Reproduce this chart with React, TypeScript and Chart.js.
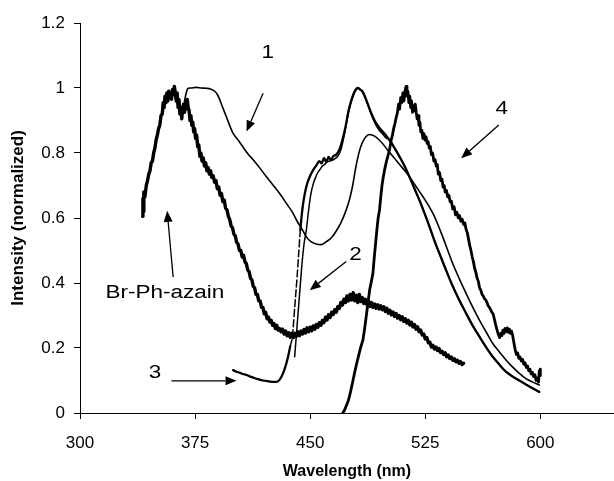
import React, { useEffect, useRef } from 'react';
import { Chart, registerables } from 'chart.js';

Chart.register(...registerables);

type Pt = [number, number];

const xTicks = [300, 375, 450, 525, 600];
const yTicks = [0, 0.2, 0.4, 0.6, 0.8, 1, 1.2];

const brPhAzain: Pt[] = [
  [340.8, 0.605], [341.0, 0.66], [341.3, 0.62], [341.6, 0.68], [342.3, 0.665], [343.2, 0.70], [344.0, 0.715], [344.8, 0.735],
  [345.6, 0.745], [346.4, 0.77], [347.2, 0.775], [348.0, 0.80], [348.8, 0.815], [349.6, 0.84], [350.4, 0.855], [351.2, 0.875],
  [352.0, 0.885], [352.8, 0.915], [353.6, 0.92], [354.2, 0.955], [354.8, 0.94], [355.4, 0.975], [356.0, 0.955], [356.6, 0.985],
  [357.2, 0.96], [357.8, 0.99], [358.4, 0.97], [359.0, 0.985], [359.6, 0.965], [360.2, 0.995], [360.8, 0.98], [361.5, 1.005],
  [362.1, 0.985], [362.7, 0.96], [363.3, 0.985], [363.9, 0.94], [364.5, 0.965], [365.1, 0.92], [365.7, 0.94], [366.3, 0.905],
  [366.9, 0.935], [367.5, 0.95], [368.1, 0.925], [368.7, 0.96], [369.3, 0.935], [369.9, 0.965], [370.5, 0.94], [371.1, 0.93],
  [371.7, 0.9], [372.3, 0.915], [372.9, 0.885], [373.5, 0.895], [374.1, 0.865], [374.7, 0.875], [375.3, 0.845], [376.0, 0.855],
  [376.7, 0.82], [377.4, 0.825], [378.1, 0.79], [378.8, 0.80], [379.5, 0.775], [380.3, 0.785], [381.1, 0.76], [381.9, 0.77],
  [382.7, 0.745], [383.5, 0.755], [384.3, 0.735], [385.1, 0.745], [385.9, 0.725], [386.8, 0.73], [387.7, 0.71], [388.6, 0.715],
  [389.5, 0.69], [390.4, 0.695], [391.3, 0.67], [392.2, 0.675], [393.1, 0.65], [394.0, 0.655], [394.9, 0.63], [395.8, 0.625],
  [396.7, 0.605], [397.6, 0.595], [398.5, 0.575], [399.4, 0.57], [400.3, 0.55], [401.2, 0.545], [402.1, 0.525], [403.0, 0.52],
  [403.9, 0.5], [404.8, 0.5], [405.7, 0.48], [406.6, 0.485], [407.5, 0.465], [408.4, 0.46], [409.3, 0.44], [410.2, 0.435],
  [411.1, 0.415], [412.0, 0.41], [412.9, 0.39], [413.8, 0.385], [414.7, 0.365], [415.6, 0.365], [416.5, 0.345], [417.4, 0.345],
  [418.3, 0.325], [419.2, 0.325], [420.1, 0.305], [421.0, 0.31], [421.9, 0.29], [422.8, 0.295], [423.7, 0.28], [424.6, 0.285],
  [425.5, 0.27], [426.4, 0.275], [427.3, 0.26], [428.2, 0.27], [429.1, 0.255], [430.0, 0.26], [431.0, 0.25], [432.0, 0.258],
  [433.0, 0.243], [434.0, 0.252], [435.0, 0.238], [436.0, 0.247], [437.0, 0.233], [438.0, 0.245], [439.0, 0.232], [440.0, 0.245],
  [441.0, 0.236], [442.0, 0.25], [443.0, 0.238], [444.0, 0.252], [445.0, 0.243], [446.0, 0.257], [447.0, 0.246], [448.0, 0.262],
  [449.0, 0.25], [450.0, 0.264], [451.0, 0.253], [452.0, 0.268], [453.0, 0.258], [454.0, 0.272], [455.0, 0.264], [456.0, 0.278],
  [457.0, 0.27], [458.0, 0.285], [459.0, 0.278], [460.0, 0.295], [461.0, 0.286], [462.0, 0.302], [463.0, 0.294], [464.0, 0.31],
  [465.0, 0.303], [466.0, 0.318], [467.0, 0.31], [468.0, 0.327], [469.0, 0.322], [470.0, 0.34], [471.0, 0.332], [472.0, 0.35],
  [473.0, 0.34], [474.0, 0.36], [475.0, 0.345], [476.0, 0.365], [477.0, 0.348], [478.0, 0.37], [479.0, 0.345], [480.0, 0.362],
  [481.0, 0.34], [482.0, 0.365], [483.0, 0.343], [484.0, 0.355], [485.0, 0.337], [486.0, 0.35], [487.0, 0.333], [488.0, 0.345],
  [489.0, 0.328], [490.0, 0.34], [491.0, 0.325], [492.0, 0.335], [493.0, 0.322], [494.0, 0.333], [495.0, 0.32], [496.0, 0.33],
  [497.0, 0.318], [498.0, 0.327], [499.0, 0.312], [500.0, 0.322], [501.0, 0.307], [502.0, 0.316], [503.0, 0.302], [504.0, 0.311],
  [505.0, 0.297], [506.0, 0.306], [507.0, 0.292], [508.0, 0.3], [509.0, 0.287], [510.0, 0.296], [511.0, 0.282], [512.0, 0.29],
  [513.0, 0.277], [514.0, 0.285], [515.0, 0.271], [516.0, 0.279], [517.0, 0.265], [518.0, 0.272], [519.0, 0.258], [520.0, 0.265],
  [521.0, 0.25], [522.0, 0.255], [523.0, 0.24], [524.0, 0.243], [525.0, 0.228], [526.0, 0.232], [527.0, 0.216], [528.0, 0.218],
  [529.0, 0.203], [530.0, 0.208], [531.0, 0.197], [532.0, 0.203], [533.0, 0.192], [534.0, 0.198], [535.0, 0.186], [536.0, 0.19],
  [537.0, 0.18], [538.0, 0.185], [539.0, 0.173], [540.0, 0.178], [541.0, 0.168], [542.0, 0.172], [543.0, 0.162], [544.0, 0.167],
  [545.0, 0.158], [546.0, 0.162], [547.0, 0.153], [548.0, 0.158], [549.0, 0.149], [550.0, 0.153],
];

const curve1: Pt[] = [
  [368.3, 0.965], [369.5, 0.99], [370.5, 0.999], [372, 1.0], [375.9, 1.002], [379, 1.0], [382.4, 0.999], [385, 0.997],
  [387.8, 0.99], [389.5, 0.98], [391, 0.965], [393, 0.94], [395.5, 0.91], [397.5, 0.885], [399.6, 0.862], [403, 0.84],
  [406, 0.82], [409, 0.8], [412.7, 0.78], [417, 0.755], [421.5, 0.727], [426, 0.7], [430, 0.676], [434.5, 0.645],
  [438.8, 0.615], [441.5, 0.59], [444.3, 0.569], [447.5, 0.542], [450.5, 0.527], [454, 0.52], [457, 0.518], [460.5, 0.527],
  [464, 0.54], [467, 0.56], [470, 0.585], [473.5, 0.625], [475.8, 0.66], [477.7, 0.7], [479.5, 0.75], [481, 0.785],
  [483, 0.82], [485.5, 0.845], [488.7, 0.857], [492, 0.852], [495, 0.84], [497.4, 0.828], [501, 0.806], [506, 0.778],
  [510, 0.755], [514.7, 0.727], [519, 0.697], [523.4, 0.666], [526.7, 0.642], [530, 0.614], [533.2, 0.58], [536.4, 0.542],
  [539.7, 0.5], [542.9, 0.46], [547.3, 0.412], [551.6, 0.368], [556, 0.325], [560.3, 0.286], [564.6, 0.25], [569, 0.214],
  [573.3, 0.188], [577.6, 0.163], [582, 0.141], [586.3, 0.122], [590.6, 0.106], [595, 0.095], [599.3, 0.086],
];

const curve2: Pt[] = [
  [439.9, 0.173], [441.5, 0.27], [443, 0.36], [444.5, 0.45], [446, 0.52], [447.5, 0.563], [449, 0.625], [450.5, 0.675],
  [452, 0.705], [453.5, 0.725], [455, 0.74], [456.5, 0.75], [458, 0.76], [459.5, 0.765], [461, 0.772], [462.5, 0.775],
  [464, 0.777], [466, 0.782], [468, 0.79], [470, 0.81], [472, 0.85], [474, 0.9], [476, 0.945], [478, 0.975],
  [480, 0.995], [481.5, 1.0], [483, 0.995], [485, 0.98], [487, 0.955], [489, 0.93], [491, 0.905], [493, 0.885],
  [495, 0.87], [497, 0.86], [499, 0.848], [501.7, 0.84], [505, 0.815], [508.2, 0.789], [511.5, 0.76], [514.7, 0.727],
  [518, 0.69], [521.2, 0.655], [524.5, 0.615], [527.8, 0.573], [531, 0.53], [534.3, 0.49], [538.5, 0.44], [543, 0.389],
  [547.3, 0.346], [551.6, 0.307], [556, 0.268], [560.3, 0.235], [564.6, 0.203], [569, 0.173], [573.3, 0.149], [577.6, 0.127],
  [582, 0.112], [586.3, 0.1], [590.6, 0.088], [595, 0.076], [599.3, 0.065],
];

const curve3: Pt[] = [
  [399.8, 0.132], [402, 0.127], [404, 0.124], [406, 0.12], [408.5, 0.117], [411, 0.112], [414, 0.107], [417, 0.103],
  [419.3, 0.1], [422, 0.098], [425, 0.096], [428, 0.096], [430, 0.102], [432.3, 0.122], [434, 0.145], [435.6, 0.173],
  [437, 0.205], [438.4, 0.235], [440, 0.33], [441.5, 0.42], [442.5, 0.49], [443.6, 0.563], [445, 0.63], [446.5, 0.675],
  [448, 0.705], [450, 0.73], [452, 0.748], [454, 0.762], [456, 0.775], [457.5, 0.768], [459, 0.785], [460.5, 0.772],
  [462, 0.788], [463.5, 0.778], [465, 0.79], [467, 0.795], [469, 0.81], [471, 0.84], [473, 0.88], [475, 0.93],
  [477, 0.965], [479, 0.99], [481, 1.0], [482.5, 0.995], [484, 0.99], [486, 0.97], [488, 0.945], [490, 0.92],
  [492, 0.9], [494, 0.885], [496, 0.872], [498, 0.862], [500, 0.85], [501.7, 0.84], [505, 0.815], [508.2, 0.789],
  [511.5, 0.76], [514.7, 0.727], [518, 0.69], [521.2, 0.655], [524.5, 0.615], [527.8, 0.573], [531, 0.53], [534.3, 0.49],
  [538.5, 0.44], [543, 0.389], [547.3, 0.346], [551.6, 0.307], [556, 0.268], [560.3, 0.235], [564.6, 0.203], [569, 0.173],
  [573.3, 0.149], [577.6, 0.127], [582, 0.112], [586.3, 0.1], [590.6, 0.088], [595, 0.076], [599.3, 0.065],
];

const curve4: Pt[] = [
  [471.3, 0.0], [472.5, 0.01], [473.8, 0.025], [475.0, 0.04], [476.3, 0.065], [477.9, 0.1], [479.0, 0.125], [480.2, 0.15],
  [481.5, 0.175], [482.8, 0.2], [484.4, 0.225], [485.5, 0.26], [486.6, 0.3], [487.7, 0.34], [488.8, 0.38], [489.9, 0.405],
  [490.9, 0.43], [491.8, 0.48], [492.6, 0.52], [493.4, 0.56], [494.3, 0.6], [495.2, 0.625], [496.0, 0.665], [496.8, 0.7],
  [497.6, 0.725], [498.5, 0.748], [499.5, 0.77], [500.6, 0.79], [501.7, 0.81], [502.8, 0.84], [503.6, 0.855], [504.4, 0.875],
  [505.2, 0.89], [506.1, 0.91], [506.9, 0.925], [507.6, 0.95], [508.3, 0.935], [509.0, 0.97], [509.7, 0.955], [510.4, 0.985],
  [511.1, 0.96], [511.8, 0.99], [512.5, 1.005], [513.1, 0.975], [513.7, 0.99], [514.3, 0.955], [514.9, 0.975], [515.5, 0.94],
  [516.1, 0.96], [516.7, 0.925], [517.3, 0.945], [517.9, 0.93], [518.5, 0.95], [519.1, 0.925], [519.7, 0.905], [520.3, 0.915],
  [520.9, 0.885], [521.5, 0.895], [522.1, 0.865], [522.8, 0.87], [523.4, 0.845], [524.1, 0.86], [524.8, 0.84], [525.5, 0.85],
  [526.2, 0.83], [526.9, 0.835], [527.6, 0.815], [528.3, 0.82], [529.0, 0.795], [529.8, 0.8], [530.6, 0.775], [531.4, 0.78],
  [532.1, 0.76], [532.8, 0.765], [533.5, 0.735], [534.3, 0.74], [535.1, 0.715], [535.9, 0.72], [536.6, 0.695], [537.3, 0.7],
  [538.0, 0.68], [538.8, 0.685], [539.6, 0.665], [540.4, 0.67], [541.2, 0.65], [542.0, 0.652], [542.9, 0.628], [543.8, 0.635],
  [544.7, 0.61], [545.6, 0.618], [546.5, 0.6], [547.3, 0.608], [548.2, 0.59], [549.1, 0.596], [550.0, 0.58], [550.8, 0.585],
  [551.6, 0.565], [552.4, 0.555], [553.2, 0.535], [554.0, 0.515], [554.8, 0.5], [555.6, 0.48], [556.4, 0.465], [557.2, 0.445],
  [558.0, 0.432], [558.8, 0.415], [559.6, 0.405], [560.4, 0.385], [561.2, 0.378], [562.0, 0.365], [562.8, 0.36], [563.6, 0.352],
  [564.4, 0.348], [565.2, 0.34], [566.0, 0.33], [566.8, 0.325], [567.6, 0.318], [568.4, 0.31], [569.2, 0.305], [570.0, 0.29],
  [570.7, 0.275], [571.4, 0.262], [572.1, 0.25], [572.8, 0.24], [573.5, 0.232], [574.2, 0.245], [574.9, 0.238], [575.6, 0.255],
  [576.3, 0.245], [577.0, 0.26], [577.7, 0.25], [578.4, 0.262], [579.1, 0.248], [579.8, 0.258], [580.5, 0.245], [581.2, 0.252],
  [582.0, 0.238], [582.8, 0.215], [583.6, 0.195], [584.4, 0.18], [585.2, 0.185], [586.0, 0.168], [586.8, 0.172], [587.6, 0.16],
  [588.4, 0.165], [589.2, 0.15], [590.0, 0.155], [590.8, 0.14], [591.6, 0.145], [592.4, 0.13], [593.2, 0.135], [594.0, 0.12],
  [594.8, 0.125], [595.6, 0.112], [596.4, 0.118], [597.2, 0.1], [598.0, 0.108], [598.8, 0.095], [599.3, 0.13], [599.8, 0.115],
  [600.0, 0.135],
];

// curve labels (data coordinates)
const labelTexts = ['1', '2', '3', '4', 'Br-Ph-azain'];
const labelPos: Pt[] = [[422.4, 1.108], [479.6, 0.486], [348.8, 0.122], [574.8, 0.934], [355.3, 0.37]];

// arrows: tail -> head (data coordinates)
const arrowTails: Pt[] = [[419.3, 0.984], [473.5, 0.466], [359.6, 0.099], [572.9, 0.886], [360.7, 0.418]];
const arrowHeads: Pt[] = [[408.5, 0.866], [449.7, 0.378], [402, 0.099], [548.4, 0.784], [356.8, 0.622]];

const FONT = '"Liberation Sans", Arial, Helvetica, sans-serif';

const toXY = (arr: Pt[]) => arr.map(([x, y]) => ({ x, y }));

const annotationPlugin = {
  id: 'curveAnnotations',
  afterDatasetsDraw(chart: any) {
    const { ctx, scales } = chart;
    const xs = scales.x;
    const ys = scales.y;
    ctx.save();
    ctx.fillStyle = '#000';
    ctx.strokeStyle = '#000';
    ctx.lineWidth = 1.3;
    arrowTails.forEach((tail, i) => {
      const head = arrowHeads[i];
      const x1 = xs.getPixelForValue(tail[0]);
      const y1 = ys.getPixelForValue(tail[1]);
      const x2 = xs.getPixelForValue(head[0]);
      const y2 = ys.getPixelForValue(head[1]);
      const ang = Math.atan2(y2 - y1, x2 - x1);
      const L = 11;
      const W = 4.5;
      const bx = x2 - L * Math.cos(ang);
      const by = y2 - L * Math.sin(ang);
      ctx.beginPath();
      ctx.moveTo(x1, y1);
      ctx.lineTo(bx, by);
      ctx.stroke();
      ctx.beginPath();
      ctx.moveTo(x2, y2);
      ctx.lineTo(bx + W * Math.sin(ang), by - W * Math.cos(ang));
      ctx.lineTo(bx - W * Math.sin(ang), by + W * Math.cos(ang));
      ctx.closePath();
      ctx.fill();
    });
    labelTexts.forEach((t, i) => {
      const px = xs.getPixelForValue(labelPos[i][0]);
      const py = ys.getPixelForValue(labelPos[i][1]);
      ctx.save();
      ctx.translate(px, py);
      ctx.scale(1.25, 1);
      ctx.font = `18px ${FONT}`;
      ctx.textAlign = 'center';
      ctx.textBaseline = 'middle';
      ctx.fillText(t, 0, 0);
      ctx.restore();
    });
    ctx.restore();
  },
};

export default function App() {
  const canvasRef = useRef<HTMLCanvasElement | null>(null);

  useEffect(() => {
    document.body.style.margin = '0';
    const canvas = canvasRef.current;
    if (!canvas) return;
    const line = (data: Pt[], width: number, extra: any = {}) => ({
      data: toXY(data),
      borderColor: '#000',
      backgroundColor: '#000',
      borderWidth: width,
      pointRadius: 0,
      pointHoverRadius: 0,
      fill: false,
      borderJoinStyle: 'round',
      borderCapStyle: 'round',
      tension: 0,
      ...extra,
    });
    const chart = new Chart(canvas, {
      type: 'line',
      data: {
        datasets: [
          line(brPhAzain, 3.4),
          line(curve1, 1.6, { cubicInterpolationMode: 'monotone' }),
          line(curve3, 2.3, {
            cubicInterpolationMode: 'monotone',
            segment: {
              borderDash: (c: any) => {
                const x0 = c.p0.parsed.x;
                return x0 >= 436.9 && x0 < 443.5 ? [7, 3] : undefined;
              },
              borderWidth: (c: any) => (c.p0.parsed.x >= 436.9 && c.p0.parsed.x < 443.5 ? 1.5 : undefined),
            },
          }),
          line(curve2, 1.5, { cubicInterpolationMode: 'monotone' }),
          line(curve4, 2.8),
        ],
      },
      options: {
        animation: false,
        responsive: false,
        maintainAspectRatio: false,
        devicePixelRatio: 1,
        events: [],
        layout: { padding: { top: 23, left: 0, right: 0, bottom: 0 } },
        plugins: {
          legend: { display: false },
          tooltip: { enabled: false },
        },
        scales: {
          x: {
            type: 'linear',
            min: 300,
            max: 648,
            afterBuildTicks: (s: any) => {
              s.ticks = xTicks.map((v) => ({ value: v }));
            },
            afterFit: (s: any) => {
              s.height = 68;
            },
            ticks: {
              font: { family: FONT, size: 17 },
              color: '#000',
              padding: 14,
              maxRotation: 0,
              autoSkip: false,
              callback: (v: any) => String(v),
            },
            grid: { drawOnChartArea: false, drawTicks: true, tickLength: 6, color: '#000', lineWidth: 1 },
            border: { display: true, color: '#000', width: 1 },
            title: {
              display: true,
              text: 'Wavelength (nm)',
              color: '#000',
              font: { family: FONT, size: 16, weight: 'bold' },
              padding: { top: 0, bottom: 0 },
            },
          },
          y: {
            type: 'linear',
            min: 0,
            max: 1.2,
            afterBuildTicks: (s: any) => {
              s.ticks = yTicks.map((v) => ({ value: v }));
            },
            afterFit: (s: any) => {
              s.width = 80;
            },
            ticks: {
              font: { family: FONT, size: 17 },
              color: '#000',
              padding: 9,
              callback: (v: any) => String(Number(v)),
            },
            grid: { drawOnChartArea: false, drawTicks: true, tickLength: 6, color: '#000', lineWidth: 1 },
            border: { display: true, color: '#000', width: 1 },
            title: {
              display: true,
              text: 'Intensity (normalized)',
              color: '#000',
              font: { family: FONT, size: 17, weight: 'bold' },
              padding: { top: 8, bottom: 0 },
            },
          },
        },
      },
      plugins: [annotationPlugin],
    } as any);
    return () => chart.destroy();
  }, []);

  return (
    <div style={{ width: 614, height: 481, background: '#fff' }}>
      <canvas ref={canvasRef} width={614} height={481} style={{ display: 'block' }} />
    </div>
  );
}
